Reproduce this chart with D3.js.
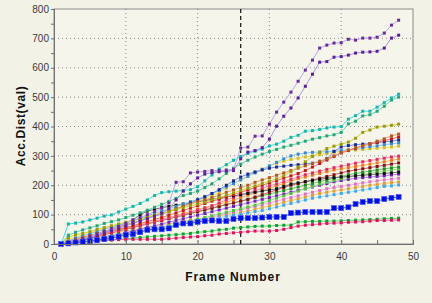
<!DOCTYPE html>
<html><head><meta charset="utf-8">
<script src="https://cdn.jsdelivr.net/npm/d3@7"></script>
<style>
html,body{margin:0;padding:0;background:#f3f2e7;}
svg{display:block;}
text{font-family:"Liberation Sans",Arial,sans-serif;}
</style></head>
<body>
<svg id="chart" width="432" height="303"></svg>
<script>
const xTicks = [0,10,20,30,40,50];
const yTicks = [0,100,200,300,400,500,600,700,800];
const markerFrame = 26;
const xLabel = "Frame Number";
const yLabel = "Acc.Dist(val)";

const purpleTop   = [0,4,10,18,26,34,42,52,60,70,80,90,100,110,122,140,210,212,242,245,247,250,250,252,254,327,330,367,368,408,449,483,517,554,592,626,667,677,684,685,697,694,701,701,704,718,745,762];
const purple2     = [0,3,8,15,22,30,38,46,54,62,70,78,86,95,105,120,150,180,205,225,238,243,246,248,250,290,313,318,328,357,401,435,463,497,537,578,619,621,636,638,643,650,653,654,656,667,701,711];
const teal        = [0,68,71,75,82,88,95,99,109,119,128,138,150,165,175,178,180,182,185,195,215,235,255,270,285,298,308,316,323,334,340,350,363,370,384,386,390,395,398,400,425,437,452,452,466,481,497,510];
const seaGreen    = [0,30,40,48,55,62,70,76,82,90,98,106,115,125,135,145,155,165,172,180,192,205,222,240,258,272,285,296,306,315,322,330,336,343,350,357,362,368,372,380,409,418,436,440,452,469,490,500];
const olive       = [0,22,32,36,42,50,56,62,68,74,80,86,92,98,104,110,118,124,130,136,142,150,158,166,174,182,190,198,206,214,222,232,246,262,280,298,312,325,333,340,347,360,380,388,398,401,404,408];
const brown       = [0,8,14,22,28,36,44,50,58,66,72,80,88,96,102,110,120,128,136,144,150,158,166,176,184,192,200,210,218,226,234,242,250,258,266,274,282,290,300,312,320,328,334,342,350,358,368,374];
const red         = [0,6,12,18,24,30,36,44,50,56,62,70,76,84,90,98,106,114,122,130,138,146,152,160,168,176,184,192,200,208,216,224,232,240,250,262,274,286,298,310,318,326,334,340,346,352,358,364];
const navy        = [0,6,14,20,28,35,42,50,58,65,72,80,88,95,102,110,118,128,140,150,160,172,185,200,215,228,238,245,252,258,262,265,268,270,272,275,280,290,315,330,335,338,340,342,345,348,350,354];
const lightBlue   = [0,10,20,28,35,42,50,58,65,72,80,88,96,104,112,120,128,136,144,152,162,172,182,194,206,218,230,242,254,266,278,290,300,306,310,312,313,314,316,318,320,324,328,331,334,338,341,344];
const yellow      = [0,15,25,30,38,45,52,60,66,72,80,86,92,100,108,115,122,130,138,146,155,165,175,190,205,220,232,245,255,265,275,282,288,292,296,300,304,308,312,315,318,320,322,324,326,328,330,333];
const pinkRed     = [0,5,10,16,22,28,34,40,46,52,58,64,70,76,82,88,94,100,108,115,122,130,140,150,158,166,174,182,190,198,205,212,220,228,236,242,248,254,260,265,270,275,280,284,288,292,296,299];
const orange      = [0,12,18,24,30,34,40,46,52,56,60,66,72,78,84,90,96,104,110,118,124,130,136,142,150,158,166,174,182,190,198,206,214,222,228,234,240,246,252,256,260,264,268,272,276,280,285,289];
const darkRed     = [0,4,8,14,20,26,32,38,44,50,56,62,68,74,80,86,92,98,104,110,116,122,128,134,140,146,152,160,168,176,184,192,200,206,212,218,224,230,236,242,248,252,256,260,264,268,272,276];
const green       = [0,6,12,18,24,30,36,42,48,54,58,64,70,76,82,88,92,98,104,110,116,122,128,134,140,146,152,158,164,170,176,182,188,194,200,206,212,218,224,230,236,240,244,248,252,256,259,262];
const lime        = [0,3,6,10,14,18,22,26,30,34,38,42,46,50,55,60,66,72,78,84,90,96,102,108,114,120,126,132,140,148,156,164,172,180,188,196,204,210,216,222,228,232,236,240,244,248,252,255];
const black       = [0,2,6,12,20,30,40,52,62,72,82,100,112,118,124,128,132,136,140,144,148,152,156,160,164,168,172,176,180,184,188,196,204,208,212,216,220,224,226,228,230,232,234,236,238,240,242,245];
const violet      = [0,2,4,8,12,16,20,26,32,38,44,50,56,62,68,74,80,86,92,98,104,110,116,122,128,134,140,146,152,158,164,170,176,182,188,194,200,206,212,216,220,224,226,228,230,232,235,238];
const pink        = [0,4,8,12,16,20,24,28,32,36,40,44,48,52,56,60,64,68,74,80,86,92,98,104,110,116,122,128,134,140,146,152,158,164,170,176,182,188,192,196,200,204,208,212,215,218,221,224];
const lightOrange = [0,10,16,20,24,28,32,36,40,44,48,52,56,60,64,68,72,76,80,84,88,92,96,100,104,108,112,118,124,130,136,142,148,154,160,166,172,176,180,184,188,192,196,200,203,206,209,211];
const sky         = [0,5,10,14,18,22,26,30,34,38,42,46,50,54,58,62,66,70,74,78,82,86,90,94,98,102,106,110,114,120,126,132,138,144,150,156,160,164,168,172,176,180,184,188,192,196,198,201];
const blueSquares = [0,2,5,8,10,13,17,20,25,31,34,40,48,50,50,53,65,70,70,75,78,80,78,78,85,88,88,88,90,92,92,92,105,107,109,109,109,109,122,122,125,136,143,146,146,153,157,160];
const greenBottom = [0,2,4,6,8,10,12,14,16,18,20,22,24,26,28,30,32,34,36,40,42,44,48,50,54,56,58,60,61,61,63,64,64,75,76,77,77,78,78,79,80,81,82,83,84,86,87,88];
const redBottom   = [0,2,4,6,8,10,12,14,15,16,16,16,16,16,16,18,20,22,24,25,28,30,34,36,38,40,42,44,44,44,46,50,56,61,64,66,68,70,71,72,74,75,76,78,80,80,81,82];

const seriesValues = [lightOrange, sky, pink, violet, lime, green, darkRed, orange, pinkRed, black,
  yellow, lightBlue, navy, red, brown, olive, seaGreen, teal, greenBottom, redBottom, purple2, purpleTop, blueSquares];
const markerColors = ["#e0a030","#40a8e8","#e070c0","#7020b0","#50c040","#208a20","#801010","#f07818","#e03060","#101010",
  "#d0c020","#3a8ad0","#1a2a90","#c01818","#b05a20","#9a9a10","#2aa37a","#1fb3a6","#10a030","#e01060","#5a1f9a","#6a2c9a","#0010e0"];
const lineColors = ["#f0c880","#a0d8f8","#f0b0e0","#b080e0","#a0e090","#70c070","#c06060","#f8b070","#f090a8","#707070",
  "#f0e070","#90c8f0","#7090e0","#f07070","#e0a070","#d0d040","#60d8b0","#40e0e0","#60d070","#f07090","#a898e0","#b8a8e8","#4060f0"];
const bigMarker = [false,false,false,false,false,false,false,false,false,false,false,false,false,false,false,false,false,false,false,false,false,false,true];

const svg = d3.select("#chart");
const L = 54, R = 413, T = 9, B = 244;
const x = d3.scaleLinear().domain([0,50]).range([L,R]);
const y = d3.scaleLinear().domain([0,800]).range([B,T]);

// plot background
svg.append("rect").attr("x",L).attr("y",T).attr("width",R-L).attr("height",B-T).attr("fill","#f6f5ec");

// grid
const g = svg.append("g");
g.selectAll("line.hg").data(yTicks.filter(d=>d>0&&d<800)).enter().append("line")
  .attr("x1",L).attr("x2",R).attr("y1",d=>y(d)).attr("y2",d=>y(d))
  .attr("stroke","#8a8a8a").attr("stroke-width",1).attr("stroke-dasharray","1,3");
g.selectAll("line.vg").data(xTicks.filter(d=>d>0&&d<50)).enter().append("line")
  .attr("y1",T).attr("y2",B).attr("x1",d=>x(d)).attr("x2",d=>x(d))
  .attr("stroke","#8a8a8a").attr("stroke-width",1).attr("stroke-dasharray","1,3");

// border
svg.append("rect").attr("x",L).attr("y",T).attr("width",R-L).attr("height",B-T)
  .attr("fill","none").attr("stroke","#8c8c8c").attr("stroke-width",1);

// marker vertical dashed line
svg.append("line").attr("x1",x(markerFrame)).attr("x2",x(markerFrame)).attr("y1",T).attr("y2",B)
  .attr("stroke","#222").attr("stroke-width",1.3).attr("stroke-dasharray","4,3");

// series
const line = d3.line().x((d,i)=>x(i+1)).y(d=>y(d));
seriesValues.forEach((vals,k)=>{
  const sg = svg.append("g");
  sg.append("path").attr("d",line(vals)).attr("fill","none")
    .attr("stroke",lineColors[k]).attr("stroke-width",1);
  const s = bigMarker[k] ? 5 : 3;
  sg.selectAll("rect").data(vals).enter().append("rect")
    .attr("x",(d,i)=>x(i+1)-s/2).attr("y",d=>y(d)-s/2)
    .attr("width",s).attr("height",s)
    .attr("fill",markerColors[k])
    .attr("stroke",bigMarker[k]?"#4050ff":"none").attr("stroke-width",bigMarker[k]?0.6:0);
});

// axes
const yAxis = d3.axisLeft(y).tickValues(yTicks).tickSize(3).tickPadding(2);
const yMinor = d3.axisLeft(y).tickValues(d3.range(50,800,100)).tickSize(3).tickFormat("");
const xAxis = d3.axisBottom(x).tickValues(xTicks).tickSize(-4).tickPadding(9);
const xMinor = d3.axisBottom(x).tickValues([5,15,25,35,45]).tickSize(-4).tickFormat("");
function style(sel){
  sel.select(".domain").attr("stroke","#707070");
  sel.selectAll(".tick line").attr("stroke","#707070");
  sel.selectAll("text").attr("fill","#3a3a3a").style("font-size","10px").style("font-family","'Liberation Sans',Arial,sans-serif");
}
svg.append("g").attr("transform",`translate(${L},0)`).call(yAxis).call(style);
svg.append("g").attr("transform",`translate(${L},0)`).call(yMinor).call(style);
svg.append("g").attr("transform",`translate(0,${B})`).call(xAxis).call(style);
svg.append("g").attr("transform",`translate(0,${B})`).call(xMinor).call(style);

// labels
svg.append("text").attr("x",233).attr("y",281).attr("text-anchor","middle")
  .style("font-size","12px").style("font-weight","bold").style("letter-spacing","0.9px")
  .attr("fill","#111").text(xLabel);
svg.append("text").attr("transform","translate(25,126) rotate(-90)").attr("text-anchor","middle")
  .style("font-size","12px").style("font-weight","bold").style("letter-spacing","0.6px")
  .attr("fill","#111").text(yLabel);
</script>
</body></html>
